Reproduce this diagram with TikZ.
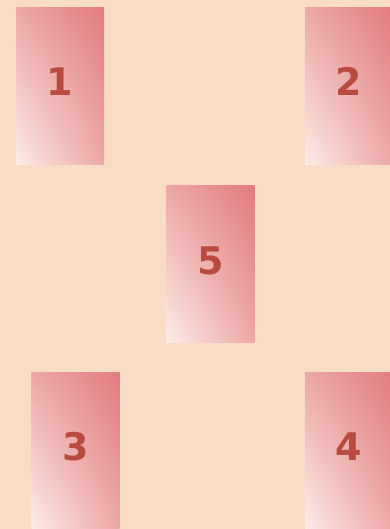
\documentclass[tikz,border=0pt]{standalone}
\usepackage{fontspec}
\newfontfamily\cardfont{DejaVu Sans}
\usepackage{tikz}
\usetikzlibrary{shadings}
\definecolor{peach}{HTML}{F8DCC6}
\definecolor{cardhi}{HTML}{E17C82}
\definecolor{cardlo}{HTML}{FBECE6}
\definecolor{cardmid}{HTML}{EDA7A7}
\definecolor{numred}{HTML}{B94A40}
\tikzset{
  card/.style={minimum width=88pt, minimum height=157pt, inner sep=0pt,
    upper right=cardhi, lower left=cardlo, upper left=cardmid, lower right=cardmid,
    font=\cardfont\bfseries\fontsize{38}{38}\selectfont, text=numred,
    text height=28pt, text depth=8pt},
}

\begin{document}
\begin{tikzpicture}[x=1pt,y=-1pt]
\useasboundingbox (0,0) rectangle (390,529);
\clip (0,0) rectangle (390,529);
\fill[peach] (0,0) rectangle (390,529);
\node[card] (card1) at (60,86) {1};
\node[card] (card2) at (349,86) {2};
\node[card] (card5) at (210.5,264) {5};
\node[card] (card3) at (75.5,450.5) {3};
\node[card] (card4) at (349,450.5) {4};
\end{tikzpicture}
\end{document}
